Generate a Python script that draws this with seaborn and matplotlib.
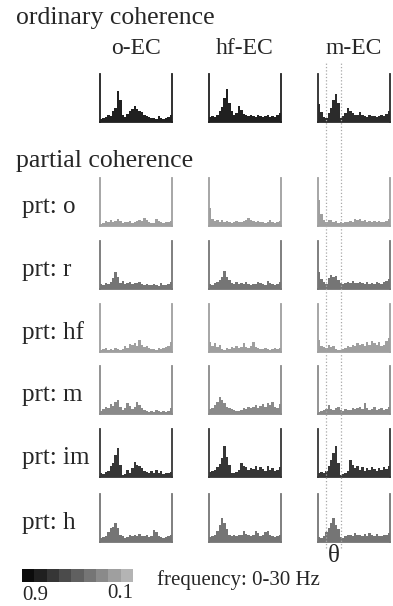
import numpy as np
import matplotlib
matplotlib.use('Agg')
import matplotlib.pyplot as plt
from matplotlib.colors import LinearSegmentedColormap, Normalize
from matplotlib.lines import Line2D
from matplotlib import transforms
import seaborn as sns

sns.set_style('white')
plt.rcParams['font.family'] = ['Liberation Serif', 'DejaVu Serif']

# 1 Hz bins, 0-30 Hz
freqs = np.arange(30) + 0.5
col_names = ['o-EC', 'hf-EC', 'm-EC']
row_names = ['prt: o', 'prt: r', 'prt: hf', 'prt: m', 'prt: im', 'prt: h']
theta_band = [3.5, 9.5]
cbar_levels = [0.9, 0.8, 0.7, 0.6, 0.5, 0.4, 0.3, 0.2, 0.1]

# ordinary coherence spectra (fraction of panel height)
ord_o = [0.06, 0.08, 0.10, 0.14, 0.12, 0.22, 0.30, 0.65, 0.45, 0.15, 0.10, 0.16, 0.22, 0.28, 0.34,
         0.28, 0.22, 0.20, 0.15, 0.12, 0.10, 0.08, 0.09, 0.06, 0.12, 0.08, 0.06, 0.08, 0.10, 0.14]
ord_hf = [0.10, 0.12, 0.10, 0.15, 0.22, 0.32, 0.50, 0.68, 0.40, 0.22, 0.15, 0.18, 0.34, 0.25, 0.16,
          0.14, 0.12, 0.15, 0.12, 0.10, 0.14, 0.12, 0.10, 0.12, 0.14, 0.10, 0.12, 0.10, 0.14, 0.18]
ord_m = [0.38, 0.20, 0.10, 0.08, 0.18, 0.30, 0.45, 0.58, 0.40, 0.08, 0.12, 0.18, 0.30, 0.22, 0.18,
         0.15, 0.14, 0.20, 0.15, 0.12, 0.10, 0.14, 0.12, 0.12, 0.10, 0.12, 0.14, 0.12, 0.16, 0.22]

# partial coherence spectra
o_o = [0.05, 0.06, 0.10, 0.08, 0.12, 0.09, 0.10, 0.14, 0.10, 0.07, 0.09, 0.08, 0.10, 0.07, 0.09,
       0.11, 0.13, 0.10, 0.17, 0.12, 0.08, 0.06, 0.07, 0.14, 0.10, 0.08, 0.07, 0.09, 0.08, 0.10]
o_hf = [0.38, 0.15, 0.10, 0.12, 0.09, 0.12, 0.08, 0.10, 0.09, 0.07, 0.09, 0.10, 0.08, 0.09, 0.10,
        0.12, 0.17, 0.12, 0.10, 0.08, 0.11, 0.09, 0.08, 0.07, 0.09, 0.12, 0.08, 0.07, 0.08, 0.10]
o_m = [0.55, 0.25, 0.12, 0.08, 0.12, 0.12, 0.08, 0.10, 0.06, 0.08, 0.07, 0.09, 0.08, 0.10, 0.09,
       0.14, 0.12, 0.14, 0.10, 0.12, 0.09, 0.10, 0.08, 0.11, 0.09, 0.10, 0.08, 0.09, 0.10, 0.15]

r_o = [0.10, 0.08, 0.12, 0.10, 0.15, 0.22, 0.35, 0.25, 0.12, 0.16, 0.10, 0.12, 0.14, 0.10, 0.13,
       0.12, 0.15, 0.11, 0.09, 0.10, 0.08, 0.09, 0.10, 0.08, 0.07, 0.12, 0.09, 0.08, 0.10, 0.15]
r_hf = [0.10, 0.08, 0.12, 0.14, 0.18, 0.25, 0.38, 0.26, 0.18, 0.12, 0.10, 0.14, 0.10, 0.12, 0.10,
        0.15, 0.10, 0.09, 0.11, 0.10, 0.15, 0.12, 0.10, 0.09, 0.16, 0.12, 0.10, 0.09, 0.11, 0.14]
r_m = [0.35, 0.20, 0.15, 0.10, 0.22, 0.30, 0.25, 0.28, 0.18, 0.12, 0.10, 0.12, 0.14, 0.12, 0.16,
       0.13, 0.12, 0.15, 0.12, 0.10, 0.14, 0.11, 0.12, 0.10, 0.15, 0.12, 0.10, 0.14, 0.16, 0.20]

hf_o = [0.05, 0.06, 0.08, 0.05, 0.06, 0.04, 0.08, 0.06, 0.05, 0.07, 0.12, 0.08, 0.16, 0.14, 0.18,
        0.12, 0.25, 0.15, 0.10, 0.12, 0.08, 0.06, 0.07, 0.05, 0.09, 0.06, 0.08, 0.10, 0.12, 0.20]
hf_hf = [0.20, 0.12, 0.18, 0.10, 0.15, 0.06, 0.05, 0.08, 0.06, 0.10, 0.08, 0.12, 0.08, 0.10, 0.18,
         0.10, 0.08, 0.12, 0.20, 0.10, 0.08, 0.06, 0.07, 0.08, 0.06, 0.05, 0.07, 0.09, 0.06, 0.08]
hf_m = [0.25, 0.12, 0.10, 0.08, 0.15, 0.10, 0.12, 0.06, 0.04, 0.05, 0.06, 0.08, 0.12, 0.10, 0.14,
        0.12, 0.18, 0.14, 0.16, 0.12, 0.20, 0.15, 0.22, 0.18, 0.14, 0.20, 0.12, 0.15, 0.22, 0.30]

m_o = [0.06, 0.10, 0.15, 0.12, 0.20, 0.16, 0.25, 0.30, 0.15, 0.08, 0.12, 0.22, 0.16, 0.10, 0.14,
       0.25, 0.18, 0.12, 0.08, 0.06, 0.05, 0.06, 0.05, 0.09, 0.06, 0.05, 0.06, 0.05, 0.07, 0.12]
m_hf = [0.10, 0.12, 0.18, 0.25, 0.35, 0.30, 0.22, 0.15, 0.12, 0.10, 0.08, 0.07, 0.06, 0.08, 0.12,
        0.10, 0.14, 0.12, 0.15, 0.18, 0.12, 0.16, 0.20, 0.15, 0.22, 0.18, 0.25, 0.15, 0.12, 0.20]
m_m = [0.05, 0.06, 0.08, 0.10, 0.18, 0.10, 0.08, 0.12, 0.15, 0.08, 0.06, 0.10, 0.08, 0.09, 0.12,
       0.10, 0.12, 0.14, 0.10, 0.22, 0.12, 0.08, 0.10, 0.14, 0.08, 0.10, 0.12, 0.09, 0.10, 0.14]

im_o = [0.08, 0.06, 0.10, 0.12, 0.22, 0.30, 0.45, 0.60, 0.25, 0.05, 0.06, 0.15, 0.08, 0.18, 0.32,
        0.25, 0.22, 0.18, 0.12, 0.10, 0.08, 0.12, 0.09, 0.14, 0.08, 0.12, 0.07, 0.08, 0.08, 0.10]
im_hf = [0.10, 0.12, 0.15, 0.20, 0.28, 0.40, 0.65, 0.42, 0.25, 0.08, 0.08, 0.10, 0.15, 0.30, 0.22,
         0.20, 0.14, 0.18, 0.16, 0.22, 0.15, 0.20, 0.16, 0.12, 0.22, 0.15, 0.18, 0.12, 0.14, 0.20]
im_m = [0.08, 0.10, 0.08, 0.12, 0.22, 0.35, 0.50, 0.65, 0.30, 0.05, 0.06, 0.08, 0.12, 0.35, 0.25,
        0.18, 0.22, 0.15, 0.20, 0.12, 0.18, 0.14, 0.20, 0.16, 0.12, 0.18, 0.15, 0.20, 0.16, 0.22]

h_o = [0.08, 0.10, 0.12, 0.20, 0.30, 0.32, 0.40, 0.30, 0.15, 0.12, 0.08, 0.10, 0.14, 0.12, 0.15,
       0.12, 0.16, 0.13, 0.12, 0.14, 0.10, 0.12, 0.25, 0.20, 0.12, 0.10, 0.08, 0.10, 0.12, 0.15]
h_hf = [0.10, 0.12, 0.15, 0.22, 0.35, 0.50, 0.40, 0.28, 0.15, 0.12, 0.14, 0.12, 0.15, 0.14, 0.22,
        0.16, 0.14, 0.12, 0.15, 0.22, 0.18, 0.12, 0.14, 0.20, 0.22, 0.15, 0.12, 0.10, 0.12, 0.15]
h_m = [0.10, 0.08, 0.12, 0.20, 0.30, 0.40, 0.50, 0.35, 0.28, 0.10, 0.08, 0.12, 0.15, 0.14, 0.12,
       0.18, 0.14, 0.15, 0.12, 0.16, 0.12, 0.18, 0.14, 0.12, 0.16, 0.13, 0.12, 0.15, 0.14, 0.18]

ord_rows = [ord_o, ord_hf, ord_m]
prt_rows = [[o_o, o_hf, o_m], [r_o, r_hf, r_m], [hf_o, hf_hf, hf_m],
            [m_o, m_hf, m_m], [im_o, im_hf, im_m], [h_o, h_hf, h_m]]
# coherence level (sets the grey of each panel)
ord_level = [0.8, 0.8, 0.75]
prt_level = [0.2, 0.4, 0.2, 0.3, 0.7, 0.4]

cmap = LinearSegmentedColormap.from_list('coh', ['#b4b4b4', '#0c0c0c'])
norm = Normalize(vmin=0.1, vmax=0.9)

W, H = 393, 606
fig = plt.figure(figsize=(W / 100, H / 100), dpi=100)

col_left = [100, 209, 318]
panel_w, panel_h = 72, 48
ord_top = 74
prt_tops = [178, 241, 304, 366, 429, 494]


def px_ax(left, top, w, h):
    return fig.add_axes([left / W, 1 - (top + h) / H, w / W, h / H])


def draw_panel(ax, vals, level):
    c = cmap(norm(level))
    sns.histplot(x=freqs, weights=vals, bins=30, binrange=(0, 30), element='step',
                 fill=True, color=c, alpha=1, linewidth=0, ax=ax)
    ax.set_xlim(0, 30)
    ax.set_ylim(0, 1)
    ax.set_xticks([])
    ax.set_yticks([])
    ax.set_xlabel('')
    ax.set_ylabel('')
    ax.set_facecolor('none')
    ax.spines['top'].set_visible(False)
    for s in ['left', 'right', 'bottom']:
        ax.spines[s].set_color(c)
        ax.spines[s].set_linewidth(1.3)


m_axes = []
for j in range(3):
    ax = px_ax(col_left[j], ord_top, panel_w, panel_h)
    draw_panel(ax, ord_rows[j], ord_level[j])
    if j == 2:
        m_axes.append(ax)
    fig.text((col_left[j] + panel_w / 2) / W, 1 - 48 / H, col_names[j],
             ha='center', va='center', fontsize=17)

for i, row in enumerate(prt_rows):
    for j in range(3):
        ax = px_ax(col_left[j], prt_tops[i], panel_w, panel_h)
        draw_panel(ax, row[j], prt_level[i])
        if j == 2:
            m_axes.append(ax)
    fig.text(22 / W, 1 - (prt_tops[i] + panel_h / 2 + 5) / H, row_names[i],
             ha='left', va='center', fontsize=18)

fig.text(16 / W, 1 - 18 / H, 'ordinary coherence', ha='left', va='center', fontsize=18.5)
fig.text(16 / W, 1 - 161 / H, 'partial coherence', ha='left', va='center', fontsize=18.5)

# theta band markers through the m-EC column
ref = m_axes[0]
tr = transforms.blended_transform_factory(ref.transData, fig.transFigure)
for f in theta_band:
    fig.add_artist(Line2D([f, f], [1 - 548 / H, 1 - 62 / H], transform=tr,
                          color='#a8a8a8', lw=0.9, ls=':'))
fig.text((col_left[2] + 16) / W, 1 - 556 / H, '\u03b8', ha='center', va='center', fontsize=18)

# grey scale bar
cax = px_ax(22, 569, 111, 13)
sns.heatmap(np.array([cbar_levels]), cmap=cmap, vmin=0.1, vmax=0.9, cbar=False,
            xticklabels=False, yticklabels=False, ax=cax)
fig.text(22 / W, 1 - 595 / H, '0.9', ha='left', va='center', fontsize=15)
fig.text(133 / W, 1 - 594 / H, '0.1', ha='right', va='center', fontsize=15)
fig.text(157 / W, 1 - 580 / H, 'frequency: 0-30 Hz', ha='left', va='center', fontsize=15)

fig.savefig('out.png', dpi=100)
